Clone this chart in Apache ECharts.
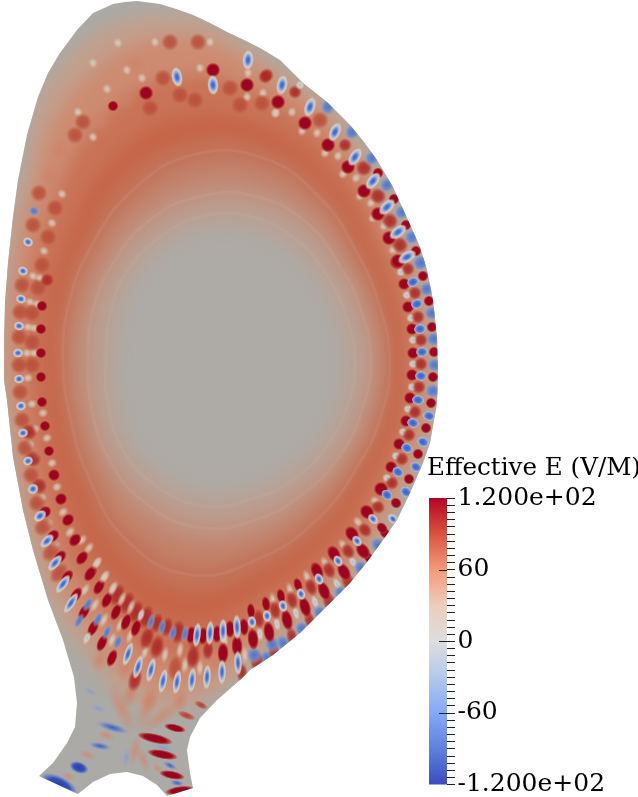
<!DOCTYPE html>
<html><head><meta charset="utf-8">
<style>html,body{margin:0;padding:0;background:#fff}#c{width:638px;height:797px}</style>
<script src="https://cdn.jsdelivr.net/npm/echarts@6/dist/echarts.min.js"></script>
</head><body><div id="c"></div>
<script>
// Poloidal plane outline, read in image units (R, Z)
const outline = [[137,1],[160,4],[176,9],[193,15],[210,23],[227,32],[244,40],[260,48],[280,60],[303,83],[327,102],[350,125],[364,142],[377,160],[393,187],[408,220],[420,247],[427,270],[433,300],[437,337],[438,373],[437,403],[430,443],[423,463],[410,493],[397,520],[383,540],[367,562],[350,583],[323,610],[300,633],[273,655],[250,670],[240,680],[217,700],[200,718],[190,737],[187,750],[190,773],[193,788],[167,796],[157,785],[143,776],[127,772],[110,774],[93,782],[78,794],[39,776],[53,763],[67,743],[75,727],[77,703],[74,677],[68,657],[63,640],[48,600],[33,550],[23,510],[13,457],[7,400],[4,380],[4,347],[5,303],[8,263],[13,217],[18,180],[27,135],[38,97],[48,73],[60,53],[77,30],[93,13],[113,4],[125,2]];
const axisCentre = [228,360];
const rayDegrees = [0,20,40,60,80,100,120,140,160,180,200,220,240,260,280,300,320,340];
// Flux-like level shapes: radius along each ray, and the field level colour of each
const levelRadii = [
 [208,210,222,257,298,352,338,272,238,228,232,264,318,356,288,252,223,214],
 [198,201,211,244,284,328,310,258,229,220,225,253,298,336,274,240,213,204],
 [186,189,198,228,262,288,268,232,212,204,209,234,272,305,254,225,200,192],
 [172,174,183,208,235,248,232,204,190,184,189,210,244,268,232,206,184,177],
 [165,166,173,195,215,220,207,186,176,171,175,191,219,233,211,190,173,168],
 [157,157,163,180,195,197,185,172,164,160,163,176,195,205,190,175,163,159],
 [147,147,151,165,175,175,168,158,151,148,151,162,174,180,172,160,152,148],
 [137,136,140,150,155,155,150,143,137,133,138,148,155,158,152,146,142,138],
 [117,117,120,127,133,135,130,124,116,113,118,128,133,135,130,125,121,118]
];
const levelColors = ['#c2a08e','#cd8c72','#c97358','#c6664a','#c3745b','#c2846e','#bf9483','#b9a195','#aeaaa5'];
const coreColor = '#abaaa6';
// Fine pale flux surfaces inside the band
const paleRings = [
 [162,161,168,186,205,208,194,178,169,165,168,182,206,218,200,182,168,163],
 [143,142,146,158,166,166,160,150,144,140,145,155,165,170,162,153,147,143],
 [127,126,130,138,145,146,140,134,126,122,128,138,145,148,141,136,131,128]
];
// Field extrema on the outer flux surfaces: [R, Z, E]
const upperRightBlue = [[282,85,-95],[310,107,-95],[335,132,-100],[355,157,-105],[373,181,-105],[387,207,-105],[398,232,-105],[407,257,-105],[248,60,-80],[177,77,-85],[213,85,-80]];
const upperRightRed = [[278,102,120],[305,123,120],[328,145,120],[348,167,120],[364,191,120],[378,214,120],[389,238,120],[398,261,120],[213,70,120],[146,93,120],[113,106,116],[247,85,120]];
const upperRightSmallRed = [[378,173,110],[394,199,110],[406,225,110],[416,251,110],[320,120,78]];
const upperRightSoft = [[265,77,82],[295,92,84],[345,145,88],[364,168,98],[378,196,98],[390,221,95],[400,245,92],[170,42,60],[163,78,75],[230,88,75],[267,75,82],[198,42,60],[180,95,70],[83,122,72],[137,65,55],[262,103,72],[60,150,58],[75,135,60],[50,175,58],[100,120,55],[125,100,55],[195,100,72],[150,108,72],[240,105,70]];
const upperOuterBlue = [[328,107,-40],[352,132,-45],[372,158,-50],[387,185,-50],[402,212,-55],[412,237,-60],[421,262,-65],[300,85,-25]];
const upperPale = [[263,93,0],[275,113,0],[292,112,0],[302,131,0],[317,133,0],[325,153,0],[338,156,0],[343,174,0],[356,178,0],[360,196,0],[371,203,0],[373,218,0],[384,226,0],[393,250,0],[210,42,0],[127,70,0],[142,78,0],[107,89,0],[78,112,0],[93,137,0],[247,97,0],[276,113,0],[200,68,0],[248,73,0],[155,42,5],[118,43,8],[93,63,8]];
const rightInnerRed = [[397,262,120],[404,284,120],[408,307,120],[412,329,120],[413,353,120],[412,375,120],[410,398,120],[406,421,120],[399,444,120],[391,467,120],[381,489,120],[367,512,120],[352,534,120],[334,554,120],[317,571,118],[298,585,112],[281,596,108],[266,604,106],[251,611,104]];
const rightMidBlue = [[413,282,-95],[417,304,-95],[420,329,-95],[422,352,-92],[421,376,-92],[418,400,-92],[413,423,-90],[407,448,-85],[398,472,-85],[387,495,-85],[373,519,-82],[357,541,-82],[338,561,-82],[319,579,-82],[301,594,-85],[283,606,-88],[267,616,-92],[252,622,-92]];
const rightInnerPale = [[401,272,-30],[407,295,-30],[411,318,-30],[413,340,-30],[413,364,-30],[412,387,-30],[408,409,-30],[403,432,-25],[396,456,-20],[387,478,-15]];
const rightMidRed = [[408,269,85],[415,293,85],[418,317,85],[421,340,85],[421,364,85],[419,387,85],[415,412,85],[409,435,85],[402,459,82],[392,483,82],[378,507,82],[365,530,82],[348,551,85],[329,570,85],[311,587,82],[292,600,80],[275,610,85],[259,619,85]];
const rightOuterRed = [[423,276,108],[429,301,110],[432,327,112],[434,352,112],[433,377,114],[431,403,114],[426,428,114],[418,454,112],[409,479,112],[396,503,114],[382,528,116],[363,551,118],[344,572,120],[324,591,120],[305,607,120],[287,620,120],[269,632,120],[253,639,120]];
const rightOuterBlue = [[421,263,-65],[427,289,-70],[432,313,-72],[434,339,-72],[435,365,-72],[433,391,-75],[429,416,-78],[423,442,-78],[416,467,-80],[406,492,-82],[393,519,-78],[378,545,-62],[361,568,-52],[341,593,-45],[320,613,-42],[302,629,-40],[283,643,-40],[267,658,-35]];
const lowerRightSmall = [[385,533,112],[369,558,100],[349,583,95],[330,603,90],[310,621,85],[292,637,85],[274,651,88],[257,662,92],[272,644,-60],[254,655,-72]];
const lowerRightPale = [[358,522,0],[375,501,0],[343,545,0],[325,563,0],[307,577,0],[290,590,0],[273,600,0],[315,602,-8],[296,613,-8],[277,624,-8],[260,634,-8],[337,584,-8],[353,562,-8]];
const lowerArcInner = [[237,627,-85],[223,631,-85],[210,633,-80],[197,635,-80],[185,634,-70],[173,633,-70],[162,627,-65],[151,622,-40],[141,615,-25],[131,607,0],[122,599,0],[113,589,0],[104,577,0],[97,563,0]];
const lowerArcInnerRed = [[244,627,105],[230,629,105],[217,634,110],[203,636,110],[191,635,108],[178,632,90],[167,627,88],[157,623,85],[146,617,92],[136,612,95],[127,603,95],[117,595,92]];
const lowerArcRed = [[237,646,120],[223,653,118],[208,650,82],[193,657,95],[157,647,92],[147,638,92],[136,628,100],[126,622,100],[116,612,112],[107,600,112],[99,587,115],[91,573,115]];
const lowerArcBlue = [[238,663,-92],[222,672,-100],[207,677,-100],[192,680,-95],[177,682,-90],[163,681,-85],[151,670,-85],[138,667,-88],[128,654,-80],[118,642,-72],[107,632,-62],[98,619,-55],[88,604,-60],[79,621,-70],[87,638,-30],[71,603,-80],[63,584,-85]];
const lowerArcDark = [[67,577,112],[76,595,112],[84,612,112],[93,628,110],[102,643,100],[112,658,105],[135,680,92],[242,673,85]];
const lowerArcSoft = [[150,700,35],[175,668,60],[125,668,45],[100,660,45],[215,662,55],[195,640,68],[155,665,48],[180,700,25],[130,695,35]];
const lowerArcPale = [[165,655,0],[180,650,0],[200,668,0],[225,640,0],[145,652,0],[130,636,0],[120,625,0],[85,590,0],[95,605,0],[104,620,0],[185,665,0],[245,655,0],[112,640,0]];
const leftBlue = [[34,211,-40],[28,242,-78],[23,271,-85],[21,299,-88],[19,326,-90],[18,353,-90],[19,379,-90],[21,406,-90],[23,433,-90],[28,461,-90],[33,489,-90],[40,516,-90],[47,541,-90],[55,563,-88]];
const leftRed = [[47,280,80],[42,306,111],[41,329,115],[41,353,115],[41,377,115],[42,402,115],[45,426,115],[49,451,115],[54,475,115],[61,499,115],[68,520,115],[75,540,116],[82,558,116],[90,574,114]];
const leftSmallRed = [[29,432,95],[33,459,95],[39,486,95],[45,512,100],[53,536,100],[60,557,100]];
const leftSoft = [[22,420,72],[25,448,72],[31,475,72],[37,503,72],[43,527,72],[51,552,72],[59,573,72],[39,193,65],[33,225,65],[42,265,72],[22,285,62],[20,312,72],[19,337,72],[19,365,72],[20,392,72],[38,288,72],[48,237,68],[55,208,62],[32,313,62],[32,342,62],[32,365,62]];
const leftPale = [[32,404,0],[43,413,0],[35,429,0],[30,445,0],[47,438,0],[35,457,0],[52,463,0],[57,487,0],[42,498,0],[63,512,0],[48,524,0],[70,532,0],[55,547,0],[82,540,0],[89,548,0],[97,563,0],[105,577,0],[113,588,0],[62,194,0],[52,223,0],[44,251,0],[33,276,0],[40,278,0],[30,302,0],[37,304,0],[28,327,0],[34,328,0],[27,353,0],[34,353,0],[28,378,0]];
// Divertor leg streaks: [R1, Z1, R2, Z2, E]
const divertorStreaks = [[138,730,157,680,42],[133,733,110,683,36],[143,730,180,703,36],[138,737,132,763,25],[140,750,147,770,30],[100,733,113,738,25],[82,753,93,757,25],[65,775,72,778,30],[155,766,160,771,40],
 [97,723,128,732,-70],[90,744,110,748,-85],[72,765,86,770,-110],[43,777,75,793,-120],[150,744,177,752,-40],[165,763,175,768,-70],[172,782,182,784,-80],[128,747,125,768,-30],[90,705,107,712,-25],[83,688,97,695,-20],
 [140,735,170,742,120],[150,752,175,757,120],[162,773,182,777,120],[168,792,192,789,120],[167,726,183,730,100],[180,713,193,718,80],[197,703,205,707,60]];
// Colour bar
const barMin = -120, barMax = 120, barStep = 60;
const tickValues = [120,60,0,-60,-120];
const tickLabels = ['1.200e+02','60','0','-60','-1.200e+02'];
const majorInnerTicks = [60,0,-60];
const barTitle = 'Effective E (V/M)';

const allSpots = [].concat(upperPale,leftPale,lowerArcPale,lowerRightPale,rightInnerPale,upperRightSoft,leftSoft,lowerArcSoft,upperOuterBlue,
  rightOuterBlue,rightMidRed,upperRightSmallRed,leftSmallRed,lowerArcInnerRed,lowerArcRed,lowerArcDark,lowerRightSmall,rightOuterRed,rightInnerRed,upperRightRed,leftRed,
  upperRightBlue,rightMidBlue,lowerArcInner,lowerArcBlue,leftBlue);

const chart = echarts.init(document.getElementById('c'), null, {renderer:'canvas'});
const RG = (s)=>new echarts.graphic.RadialGradient(0.5,0.5,0.5,s.map(q=>({offset:q[0],color:q[1]})));
const OFF = 1200;
function rightEdgeLimit(y){ return y<262?420:0; }
function spotStyle(v,y,x){
  const a=Math.abs(v); let long, short, stops;
  const low = Math.max(0,Math.min(1,(y-490)/120));
  const arc = x<250 && y>470;          // lower-left arc: thin radial streaks
  const rightEdge = x>385 && y>=265 && y<505;
  if(v>=100){ const r=a>=118?(rightEdge?6.4:7.6):(arc?6.4:5.6);
    stops=[[0,'#9c0420'],[0.62,'#9c0420'],[0.82,'rgba(176,48,44,.8)'],[1,'rgba(190,90,70,0)']];
    long=r*(1+.5*low); short=r/(1+.3*low);
  }else if(v>=60){ const r=a>=90?8.5:(a>=80?7:9); const c=a>=80?'172,40,36':'186,78,58';
    stops=[[0,`rgba(${c},.95)`],[0.55,`rgba(${c},.78)`],[1,`rgba(${c},0)`]];
    long=r*(1+.5*low); short=r/(1+.2*low);
  }else if(v>=20){ stops=[[0,'rgba(205,130,105,.8)'],[1,'rgba(205,130,105,0)']]; long=11*(1+.2*low); short=11/(1+.3*low);
  }else if(v<=-78){
    stops=[[0,'#3d62c4'],[0.26,'#4f78d2'],[0.52,'#9db4dc'],[0.74,'rgba(214,212,205,.9)'],[1,'rgba(214,205,195,0)']];
    if(y<300&&x>170&&x<rightEdgeLimit(y)){long=10.5;short=5.8;}
    else if(rightEdge){long=6.2;short=5;stops=[[0,'#3a5ec2'],[0.5,'#4f78d2'],[0.78,'#8aa5dc'],[0.92,'rgba(190,196,210,.7)'],[1,'rgba(214,205,195,0)']];}
    else if(x>=250&&y>470){long=6.4;short=4.6;}
    else if(arc){long=6+low*7;short=5.4-low*1.2;}
    else {long=5.6;short=4.8;}
  }else if(v<=-35){ const r=x>250?9.2:6;
    stops=[[0,'#4f75c8'],[0.5,'rgba(105,135,205,.9)'],[1,'rgba(170,172,175,0)']];
    long=arc?r*(1+.5*low):r; short=arc?r/(1+.5*low):r*.9;
  }else if(v<-5){ stops=[[0,'#aebbd4'],[0.45,'rgba(210,210,205,.95)'],[1,'rgba(214,205,195,0)']]; long=5*(1+.5*low); short=4.6/(1+.3*low);
  }else{ stops=[[0,'rgba(219,208,194,.92)'],[0.45,'rgba(214,198,180,.72)'],[1,'rgba(210,180,160,0)']]; long=5.4*(1+.7*low); short=4.8/(1+.25*low); }
  return {long,short,fill:RG(stops)};
}
function streakColor(v){
  const a=Math.abs(v);
  if(v>=100) return [[0,'#980420'],[0.6,'#9c0420'],[0.85,'rgba(180,60,50,.7)'],[1,'rgba(190,90,70,0)']];
  if(v>=50) return [[0,'rgba(178,52,42,.95)'],[0.6,'rgba(185,70,55,.7)'],[1,'rgba(190,90,70,0)']];
  if(v>0) return [[0,'rgba(205,140,115,.9)'],[1,'rgba(205,140,115,0)']];
  if(a>=100) return [[0,'#2b3fa6'],[0.55,'#3552b8'],[0.85,'rgba(120,140,200,.7)'],[1,'rgba(170,172,175,0)']];
  if(a>=60) return [[0,'#3f5fbb'],[0.5,'rgba(110,135,200,.85)'],[1,'rgba(170,172,175,0)']];
  return [[0,'rgba(135,155,200,.85)'],[1,'rgba(170,172,175,0)']];
}
const clipOf = (api)=>({type:'polygon',shape:{points:outline.map(p=>api.coord(p))}});
const ringPoints=(radii,api)=>radii.map((r,i)=>{const t=rayDegrees[i]*Math.PI/180;return api.coord([axisCentre[0]+r*Math.cos(t),axisCentre[1]-r*Math.sin(t)]);});

const option={
 animation:false,
 title:{text:barTitle,left:427,top:456,padding:0,textStyle:{fontFamily:'DejaVu Serif',fontSize:24.6,fontWeight:'normal',color:'#000'}},
 grid:[{left:0,top:0,width:638,height:797},{left:429,top:498,width:18,height:289}],
 xAxis:[{gridIndex:0,type:'value',min:0,max:638,show:false},{gridIndex:1,type:'value',min:0,max:18,show:false}],
 yAxis:[{gridIndex:0,type:'value',min:0,max:797,inverse:true,show:false},
  {gridIndex:1,type:'value',position:'right',min:barMin,max:barMax,interval:barStep,
   axisLine:{show:false,onZero:false},axisTick:{show:true,length:8,lineStyle:{color:'#222',width:1}},
   minorTick:{show:true,splitNumber:10,length:8,lineStyle:{color:'#222',width:1}},splitLine:{show:false},
   axisLabel:{margin:10.5,showMinLabel:true,showMaxLabel:true,fontFamily:'DejaVu Serif',fontSize:25,color:'#000',
     formatter:(v)=>tickLabels[tickValues.indexOf(v)]}}],
 series:[
  {type:'custom',name:'Plane',coordinateSystem:'cartesian2d',xAxisIndex:0,yAxisIndex:0,silent:true,clip:false,z:1,
   data:[[0]],renderItem:(p,api)=>({type:'polygon',shape:{points:outline.map(q=>api.coord(q))},style:{fill:coreColor}})},
  {type:'custom',name:'Levels',xAxisIndex:0,yAxisIndex:0,silent:true,clip:false,z:2,
   data:levelRadii.map((_,i)=>[i]),
   renderItem:(p,api)=>{const i=api.value(0);
     return {type:'group',clipPath:clipOf(api),children:[{type:'polygon',
     shape:{points:ringPoints(levelRadii[i],api).map(q=>[q[0]-OFF,q[1]]),smooth:0.45},
     style:{fill:'#000',shadowBlur:16,shadowOffsetX:OFF,shadowColor:levelColors[i]}}]};}},
  {type:'custom',name:'Pale rings',xAxisIndex:0,yAxisIndex:0,silent:true,clip:false,z:2,
   data:paleRings.map((_,i)=>[i]),
   renderItem:(p,api)=>({type:'polygon',shape:{points:ringPoints(paleRings[api.value(0)],api),smooth:0.45},
     style:{fill:'none',stroke:'rgba(222,190,170,.11)',lineWidth:3}})},
  {type:'custom',name:'Streaks',xAxisIndex:0,yAxisIndex:0,silent:true,clip:false,z:3,
   data:divertorStreaks,encode:{x:[0,2],y:[1,3]},
   renderItem:(p,api)=>{const a=api.coord([api.value(0),api.value(1)]),b=api.coord([api.value(2),api.value(3)]),v=api.value(4);
     const L=Math.hypot(b[0]-a[0],b[1]-a[1])/2+3, w=Math.abs(v)>=100&&v<0?3+L*.3:(Math.abs(v)>=50?2.5+L*0.13:2.5+L*0.22);
     return {type:'group',clipPath:clipOf(api),children:[{type:'circle',shape:{cx:0,cy:0,r:L},x:(a[0]+b[0])/2,y:(a[1]+b[1])/2,
       rotation:Math.atan2(a[1]-b[1],b[0]-a[0]),scaleY:w/L,style:{fill:RG(streakColor(v))}}]};}},
  {type:'custom',name:'Spots',xAxisIndex:0,yAxisIndex:0,silent:true,clip:false,z:4,
   data:allSpots,encode:{x:0,y:1},
   renderItem:(p,api)=>{const x=api.value(0),y=api.value(1),v=api.value(2),c=api.coord([x,y]),o=api.coord(axisCentre);
     const s=spotStyle(v,y,x);
     return {type:'group',clipPath:clipOf(api),children:[{type:'circle',shape:{cx:0,cy:0,r:s.long},x:c[0],y:c[1],
       rotation:Math.atan2(o[1]-c[1],c[0]-o[0]),scaleY:s.short/s.long,style:{fill:s.fill}}]};}},
  {type:'custom',name:'Colour bar',xAxisIndex:1,yAxisIndex:1,silent:true,clip:false,z:5,
   data:[[0,barMax,18,barMin]],encode:{y:[1,3]},
   renderItem:(p,api)=>{const a=api.coord([api.value(0),api.value(1)]),b=api.coord([api.value(2),api.value(3)]);
     return {type:'rect',shape:{x:a[0],y:a[1],width:b[0]-a[0],height:b[1]-a[1]},style:{fill:new echarts.graphic.LinearGradient(0,0,0,1,[
      {offset:0,color:'#b40426'},{offset:.125,color:'#d9533f'},{offset:.25,color:'#f4997a'},{offset:.375,color:'#eccdbc'},{offset:.5,color:'#dddddd'},{offset:.625,color:'#b5c8ec'},{offset:.75,color:'#86a9f5'},{offset:.875,color:'#5f80dc'},{offset:1,color:'#3b4cc0'}])}};}},
  {type:'custom',name:'Inner ticks',xAxisIndex:1,yAxisIndex:1,silent:true,clip:false,z:6,
   data:majorInnerTicks.map(v=>[v]),
   renderItem:(p,api)=>{const a=api.coord([10,api.value(0)]),b=api.coord([18,api.value(0)]);
     return {type:'line',shape:{x1:a[0],y1:Math.round(a[1])+.5,x2:b[0],y2:Math.round(b[1])+.5},style:{stroke:'#222',lineWidth:1}};}}
 ]
};
chart.setOption(option);
</script></body></html>
